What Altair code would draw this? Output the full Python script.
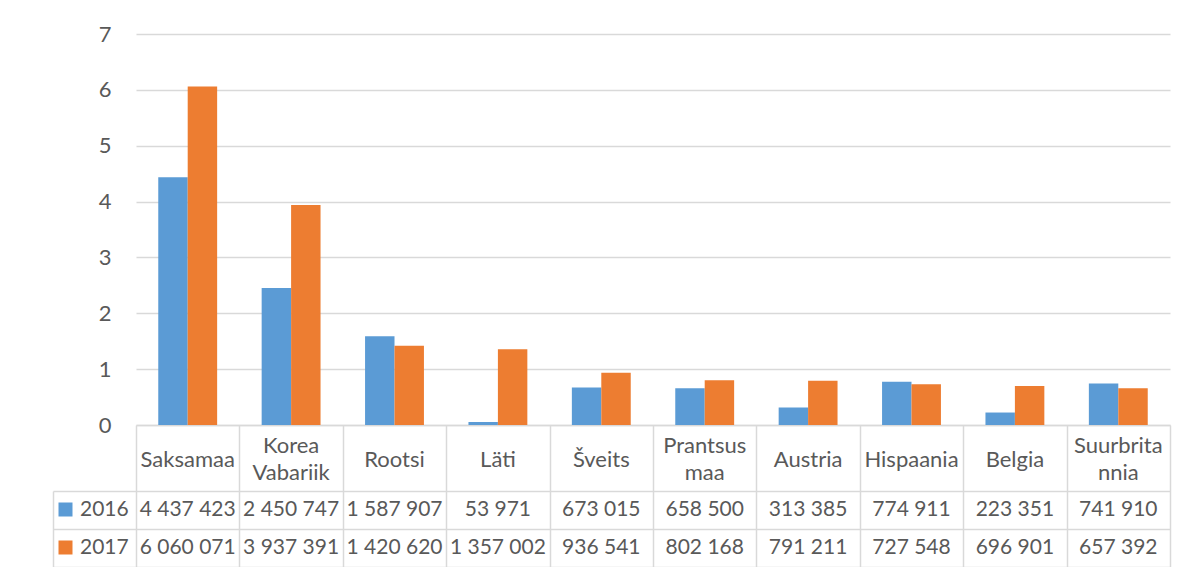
import json
import altair as alt
import pandas as pd

countries = ["Saksamaa", "Korea Vabariik", "Rootsi", "Läti", "Šveits",
             "Prantsusmaa", "Austria", "Hispaania", "Belgia", "Suurbritannia"]
header_lines = [["Saksamaa"], ["Korea", "Vabariik"], ["Rootsi"], ["Läti"], ["Šveits"],
                ["Prantsus", "maa"], ["Austria"], ["Hispaania"], ["Belgia"], ["Suurbrita", "nnia"]]
years = ["2016", "2017"]
v2016 = [4437423, 2450747, 1587907, 53971, 673015, 658500, 313385, 774911, 223351, 741910]
v2017 = [6060071, 3937391, 1420620, 1357002, 936541, 802168, 791211, 727548, 696901, 657392]
y_ticks = [0, 1, 2, 3, 4, 5, 6, 7]
colors = ["#5B9BD5", "#ED7D31"]

rows = []
for year, vals in zip(years, [v2016, v2017]):
    for c, v in zip(countries, vals):
        rows.append({"country": c, "year": year, "value": v,
                     "label": f"{v:,}".replace(",", " ")})
df = pd.DataFrame(rows)

FONT = "Lato"
TXT = "#595959"
GRID = "#D9D9D9"

# multi-line header labels
expr = "datum.label"
multi = []
for c, lines in zip(countries, header_lines):
    if len(lines) > 1:
        multi.append(c)
        expr = f"datum.value == {json.dumps(c, ensure_ascii=False)} ? {json.dumps(lines, ensure_ascii=False)} : " + expr
multi_test = f"indexof({json.dumps(multi, ensure_ascii=False)}, datum.value) >= 0"

W, H = 1034, 533
BASE = 391
TABLE_TOP = 457

x_scale = alt.Scale(domain=countries, paddingInner=0, paddingOuter=0)
table_y = alt.Scale(domain=years, range=[TABLE_TOP, H], paddingInner=0, paddingOuter=0)

bars = alt.Chart(df).transform_calculate(
    m="datum.value / 1000000"
).mark_bar().encode(
    x=alt.X("country:N", sort=countries, scale=x_scale,
            axis=alt.Axis(orient="bottom", offset=-(H - BASE), title=None, domain=True,
                          domainColor=GRID, domainWidth=1.5, ticks=False, tickSize=0,
                          labelAngle=0, labelExpr=expr,
                          labelBaseline={"condition": {"test": multi_test, "value": "line-bottom"},
                                         "value": "middle"},
                          labelPadding=34, labelFontSize=22, labelFont=FONT, labelColor=TXT,
                          labelLineHeight=27, labelOverlap=False, grid=False)),
    xOffset=alt.XOffset("year:N", scale=alt.Scale(domain=years, paddingInner=0, paddingOuter=0.756)),
    y=alt.Y("m:Q", scale=alt.Scale(domain=[0, 7], range=[BASE, 0], nice=False),
            axis=alt.Axis(values=y_ticks, title=None, domain=False, ticks=False, tickSize=0,
                          grid=True, gridColor=GRID, gridWidth=1.5, labelPadding=25,
                          labelFontSize=22, labelFont=FONT, labelColor=TXT)),
    color=alt.Color("year:N", scale=alt.Scale(domain=years, range=colors),
                    legend=alt.Legend(orient="none", legendX=-81, legendY=465, title=None,
                                      symbolType="square", symbolSize=196, symbolStrokeWidth=0,
                                      labelFontSize=21, labelFont=FONT, labelColor=TXT,
                                      rowPadding=16, labelOffset=4, padding=0)),
)

table = alt.Chart(df).mark_text(fontSize=21, font=FONT, color=TXT).encode(
    x=alt.X("country:N", sort=countries, scale=x_scale,
            axis=alt.Axis(orient="top", offset=-H, tickBand="extent", tickSize=H - BASE,
                          tickColor=GRID, tickWidth=1.5, labels=False, domain=False,
                          grid=False, title=None)),
    y=alt.Y("year:N", scale=table_y,
            axis=alt.Axis(orient="left", tickBand="extent", tickSize=83, tickColor=GRID,
                          tickWidth=1.5, grid=True, gridColor=GRID, gridWidth=1.5,
                          labels=False, domain=False, title=None)),
    text="label:N",
)

edge = alt.Chart(df).mark_point(opacity=0).encode(
    y=alt.Y("year:N", scale=table_y,
            axis=alt.Axis(orient="left", offset=83, domain=True, domainColor=GRID,
                          domainWidth=1.5, ticks=False, labels=False, grid=False, title=None)),
)

chart = alt.layer(bars, table, edge).resolve_scale(
    x="independent", y="independent"
).properties(
    width=W, height=H,
    autosize=alt.AutoSizeParams(type="none"),
    padding={"left": 128, "top": 26, "right": 18, "bottom": 0},
    background="white",
).configure_view(stroke=None)

chart.save("out.html", embed_options={"renderer": "svg", "actions": False})
